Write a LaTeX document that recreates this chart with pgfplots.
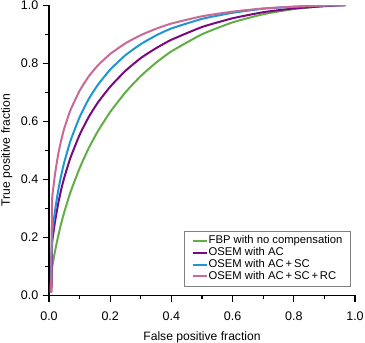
\documentclass[border=0pt]{standalone}
\usepackage{fontspec}
\setmainfont{Liberation Sans}
\usepackage{pgfplots}
\pgfplotsset{compat=1.18}
\definecolor{cgreen}{RGB}{98,174,70}
\definecolor{cpurple}{RGB}{122,8,128}
\definecolor{cblue}{RGB}{30,150,210}
\definecolor{cpink}{RGB}{200,105,150}
\begin{document}
\begin{tikzpicture}
\begin{axis}[
  name=ax,
  scale only axis, width=244.8pt, height=232pt,
  xmin=0, xmax=1, ymin=0, ymax=1,
  axis x line*=bottom, axis y line*=left,
  xtick={0,0.2,0.4,0.6,0.8,1.0}, ytick={0,0.2,0.4,0.6,0.8,1.0},
  minor xtick={0.1,0.3,0.5,0.7,0.9}, minor ytick={0.1,0.3,0.5,0.7,0.9},
  tick align=outside, major tick length=5pt, minor tick length=3.2pt,
  every tick/.style={black, line width=0.9pt},
  axis line style={line width=1.2pt},
  /pgf/number format/assume math mode=true,
  xticklabel style={/pgf/number format/fixed, /pgf/number format/fixed zerofill, /pgf/number format/precision=1, yshift=-4.5pt},
  yticklabel style={/pgf/number format/fixed, /pgf/number format/fixed zerofill, /pgf/number format/precision=1},
  tick label style={font=\fontsize{10}{12}\selectfont},
  label style={font=\fontsize{9.7}{11}\selectfont},
  xlabel={False positive fraction},
  ylabel={True positive fraction},
  xlabel style={yshift=-2pt},
  legend style={at={(0.987,0.031)}, anchor=south east, draw=gray, line width=0.6pt, font=\fontsize{9}{10}\selectfont, cells={anchor=west}, inner xsep=6pt, inner ysep=2.8pt, nodes={inner sep=0.5pt, text height=6.5pt, text depth=2pt}},
  legend image code/.code={\draw[#1, line width=1.6pt] (0.1cm,0cm) -- (0.49cm,0cm);},
  every axis plot/.append style={line width=1.6pt, smooth, tension=0.3},
]
\addplot[cgreen] coordinates {(0.006,0.01)(0.01,0.093)(0.015,0.125)(0.02,0.154)(0.03,0.204)(0.04,0.248)(0.05,0.287)(0.07,0.355)(0.1,0.438)(0.13,0.508)(0.16,0.566)(0.2,0.632)(0.25,0.700)(0.3,0.756)(0.35,0.802)(0.4,0.841)(0.5,0.900)(0.6,0.941)(0.7,0.969)(0.8,0.987)(0.9,0.997)(0.935,0.999)};
\addlegendentry{FBP with no compensation}
\addplot[cpurple] coordinates {(0.008,0.01)(0.01,0.175)(0.015,0.220)(0.02,0.256)(0.03,0.316)(0.04,0.365)(0.05,0.406)(0.07,0.474)(0.1,0.553)(0.13,0.615)(0.16,0.665)(0.2,0.719)(0.25,0.774)(0.3,0.818)(0.35,0.852)(0.4,0.881)(0.5,0.925)(0.6,0.955)(0.7,0.976)(0.8,0.989)(0.9,0.997)(0.965,1.0)};
\addlegendentry{OSEM with AC}
\addplot[cblue] coordinates {(0.005,0.01)(0.01,0.201)(0.015,0.252)(0.02,0.294)(0.03,0.361)(0.04,0.414)(0.05,0.459)(0.07,0.532)(0.1,0.614)(0.13,0.677)(0.16,0.726)(0.2,0.778)(0.25,0.828)(0.3,0.866)(0.35,0.896)(0.4,0.920)(0.5,0.953)(0.6,0.974)(0.7,0.988)(0.8,0.995)(0.9,0.999)(0.96,1.0)};
\addlegendentry{OSEM with AC\,+\,SC}
\addplot[cpink] coordinates {(0.007,0.01)(0.01,0.322)(0.015,0.377)(0.02,0.420)(0.03,0.486)(0.04,0.535)(0.05,0.576)(0.07,0.638)(0.1,0.705)(0.13,0.755)(0.16,0.793)(0.2,0.832)(0.25,0.869)(0.3,0.897)(0.35,0.919)(0.4,0.937)(0.5,0.962)(0.6,0.978)(0.7,0.989)(0.8,0.995)(0.9,0.999)(0.97,1.0)};
\addlegendentry{OSEM with AC\,+\,SC\,+\,RC}
\end{axis}
\pgfresetboundingbox
\path[use as bounding box] ([xshift=-39.2pt,yshift=-37.6pt]ax.south west) rectangle ([xshift=8pt,yshift=4.2pt]ax.north east);
\end{tikzpicture}
\end{document}
